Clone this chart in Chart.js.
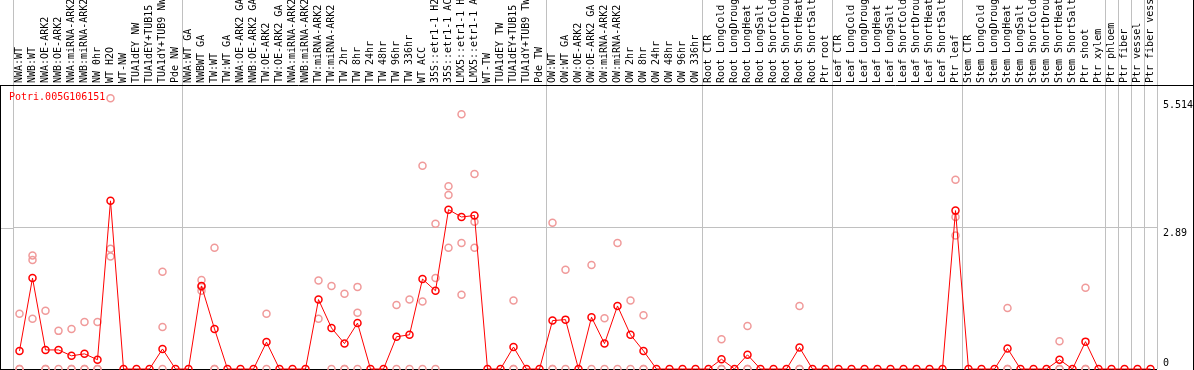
<!DOCTYPE html>
<html>
<head>
<meta charset="utf-8">
<script src="https://cdn.jsdelivr.net/npm/chart.js@4/dist/chart.umd.min.js"></script>
<style>
  body { margin: 0; background: #fff; }
  canvas { display: block; }
</style>
</head>
<body>
<canvas id="exprChart" width="1194" height="370"></canvas>
<script>
var geneName = 'Potri.005G106151';

var samples = [
  'NWA:WT', 'NWB:WT', 'NWA:OE-ARK2', 'NWB:OE-ARK2', 'NWA:miRNA-ARK2', 'NWB:miRNA-ARK2',
  'NW 0hr', 'WT H2O', 'WT-NW', 'TUA1dEY NW', 'TUA1dEY+TUB15 NW', 'TUA1dY+TUB9 NW', 'Pde NW',
  'NWA:WT GA', 'NWBWT GA', 'TW:WT', 'TW:WT GA', 'NWA:OE-ARK2 GA', 'NWB:OE-ARK2 GA',
  'TW:OE-ARK2', 'TW:OE-ARK2 GA', 'NWA:miRNA-ARK2', 'NWB:miRNA-ARK2', 'TW:miRNA-ARK2',
  'TW:miRNA-ARK2', 'TW 2hr', 'TW 8hr', 'TW 24hr', 'TW 48hr', 'TW 96hr', 'TW 336hr', 'WT ACC',
  '35S::etr1-1 H2O', '35S::etr1-1 ACC', 'LMX5::etr1-1 H2O', 'LMX5::etr1-1 ACC', 'WT-TW',
  'TUA1dEY TW', 'TUA1dEY+TUB15 TW', 'TUA1dY+TUB9 TW', 'Pde TW',
  'OW:WT', 'OW:WT GA', 'OW:OE-ARK2', 'OW:OE-ARK2 GA', 'OW:miRNA-ARK2', 'OW:miRNA-ARK2',
  'OW 2hr', 'OW 8hr', 'OW 24hr', 'OW 48hr', 'OW 96hr', 'OW 336hr',
  'Root CTR', 'Root LongCold', 'Root LongDrought', 'Root LongHeat', 'Root LongSalt',
  'Root ShortCold', 'Root ShortDrought', 'Root ShortHeat', 'Root ShortSalt', 'Ptr root',
  'Leaf CTR', 'Leaf LongCold', 'Leaf LongDrought', 'Leaf LongHeat', 'Leaf LongSalt',
  'Leaf ShortCold', 'Leaf ShortDrought', 'Leaf ShortHeat', 'Leaf ShortSalt', 'Ptr leaf',
  'Stem CTR', 'Stem LongCold', 'Stem LongDrought', 'Stem LongHeat', 'Stem LongSalt',
  'Stem ShortCold', 'Stem ShortDrought', 'Stem ShortHeat', 'Stem ShortSalt', 'Ptr shoot',
  'Ptr xylem', 'Ptr phloem', 'Ptr fiber', 'Ptr vessel', 'Ptr fiber vessel'
];

// mean expression per sample (the red line)
var meanValues = [
  0.37, 1.86, 0.39, 0.39, 0.27, 0.31, 0.19, 3.44, 0, 0,
  0, 0.41, 0, 0, 1.70, 0.82, 0, 0, 0, 0.55,
  0, 0, 0, 1.42, 0.84, 0.52, 0.94, 0, 0, 0.66,
  0.70, 1.84, 1.60, 3.26, 3.11, 3.14, 0, 0, 0.45, 0,
  0, 0.99, 1.01, 0, 1.06, 0.52, 1.29, 0.70, 0.37, 0,
  0, 0, 0, 0, 0.20, 0, 0.29, 0, 0, 0,
  0.44, 0, 0, 0, 0, 0, 0, 0, 0, 0,
  0, 0, 3.24, 0, 0, 0, 0.42, 0, 0, 0,
  0.19, 0, 0.56, 0, 0, 0, 0, 0
];

// individual replicates (pale circles)
var rep1 = [
  1.13, 2.32, 1.19, 0.78, 0.82, 0.96, 0.96, 5.54, null, null,
  null, 1.99, null, null, 1.82, 2.48, null, null, null, 1.13,
  null, null, null, 1.81, 1.70, 1.54, 1.68, null, null, 1.31,
  1.42, 4.16, 2.97, 3.74, 5.21, 3.99, null, null, 1.40, null,
  null, 2.99, 2.03, null, 2.13, 1.04, 2.58, 1.40, 1.10, null,
  null, null, null, null, 0.61, null, 0.88, null, null, null,
  1.29, null, null, null, null, null, null, null, null, null,
  null, null, 3.87, null, null, null, 1.25, null, null, null,
  0.57, null, 1.66, null, null, null, null, null
];
var rep2 = [
  0, 2.23, 0, 0, 0, 0, 0, 2.46, null, null,
  null, 0.86, null, null, 1.68, 0, null, null, null, 0,
  null, null, null, 1.03, 0, 0, 1.15, null, null, 0,
  0, 1.38, 1.86, 3.56, 2.58, 3.01, null, null, 0, null,
  null, 0, 0, null, 0, 0, 0, 0, 0, null,
  null, null, null, null, 0, null, 0, null, null, null,
  0, null, null, null, null, null, null, null, null, null,
  null, null, 3.11, null, null, null, 0, null, null, null,
  0, null, 0, null, null, null, null, null
];
var rep3 = [
  0, 1.03, 0, null, 0, 0, 0, 2.30, null, null,
  null, 0, null, null, 1.60, 0, null, null, null, null,
  null, null, null, null, null, 0, 0, null, null, null,
  null, 0, 0, 2.48, 1.52, 2.48, null, null, 0, null,
  null, 0, null, null, null, null, null, null, 0, null,
  null, null, null, null, 0, null, 0, null, null, null,
  0, null, null, null, null, null, null, null, null, null,
  null, null, 2.73, null, null, null, 0, null, null, null,
  0, null, 0, null, null, null, null, null
];

var yTicks = [0, 2.89, 5.514];
var groupBreaks = [0, 13, 41, 53, 63, 73, 84, 85, 86, 87, 88];

var monoFont = '"DejaVu Sans Mono", monospace';
var gridGray = '#c0c0c0';

var framePlugin = {
  id: 'frame',
  beforeDatasetsDraw: function (chart) {
    var ctx = chart.ctx, area = chart.chartArea;
    var xs = chart.scales.x, ys = chart.scales.y;
    var half = (xs.getPixelForValue(1) - xs.getPixelForValue(0)) / 2;
    ctx.save();
    ctx.lineWidth = 1;
    ctx.strokeStyle = gridGray;
    ctx.beginPath();
    groupBreaks.forEach(function (k) {
      var x = Math.round(xs.getPixelForValue(k) - half) + 0.5;
      ctx.moveTo(x, 0);
      ctx.lineTo(x, area.top);
    });
    var yg = Math.round(ys.getPixelForValue(2.89)) + 0.5;
    ctx.moveTo(0, yg);
    ctx.lineTo(area.left, yg);
    ctx.stroke();

    ctx.strokeStyle = '#000';
    ctx.beginPath();
    ctx.moveTo(0, area.top + 0.5);
    ctx.lineTo(chart.width, area.top + 0.5);
    ctx.moveTo(0.5, area.top);
    ctx.lineTo(0.5, chart.height);
    ctx.moveTo(chart.width - 0.5, 0);
    ctx.lineTo(chart.width - 0.5, chart.height);
    ctx.moveTo(0, area.bottom + 0.5);
    ctx.lineTo(area.right, area.bottom + 0.5);
    ctx.stroke();
    ctx.restore();
  },
  afterDraw: function (chart) {
    var ctx = chart.ctx, area = chart.chartArea, ys = chart.scales.y;
    ctx.save();
    ctx.font = '10px ' + monoFont;
    ctx.textAlign = 'left';
    ctx.fillStyle = '#000';
    yTicks.forEach(function (v) {
      var y = ys.getPixelForValue(v);
      if (v === 0) {
        ctx.textBaseline = 'alphabetic';
        ctx.fillText(String(v), area.right + 6, y - 3);
      } else {
        ctx.textBaseline = 'top';
        ctx.fillText(String(v), area.right + 6, y + 1);
      }
    });
    ctx.fillStyle = '#ff0000';
    ctx.textBaseline = 'middle';
    ctx.fillText(geneName, 9, area.top + 12);
    ctx.restore();
  }
};

function repSet(values) {
  return {
    data: values,
    showLine: false,
    order: 1,
    pointRadius: 3.5,
    pointBorderWidth: 1.5,
    pointBorderColor: '#f09a9a',
    pointBackgroundColor: 'rgba(0,0,0,0)',
    clip: false
  };
}

document.addEventListener('DOMContentLoaded', function () {
  var ctx = document.getElementById('exprChart').getContext('2d');
  new Chart(ctx, {
    type: 'line',
    data: {
      labels: samples,
      datasets: [{
        data: meanValues,
        order: 0,
        borderColor: '#ff0000',
        borderWidth: 1,
        tension: 0,
        pointRadius: 3.5,
        pointBorderWidth: 1.5,
        pointBorderColor: '#ff0000',
        pointBackgroundColor: 'rgba(0,0,0,0)',
        clip: false
      }, repSet(rep1), repSet(rep2), repSet(rep3)]
    },
    options: {
      responsive: false,
      animation: false,
      devicePixelRatio: 1,
      layout: { autoPadding: false, padding: { left: 13, right: 0, top: 0, bottom: 1 } },
      plugins: { legend: { display: false }, tooltip: { enabled: false } },
      scales: {
        x: {
          type: 'category',
          position: 'top',
          offset: true,
          grid: {
            offset: true,
            drawTicks: false,
            color: function (c) {
              var i = c.type === 'tick' ? c.index : samples.length;
              return groupBreaks.indexOf(i) >= 0 ? gridGray : 'rgba(0,0,0,0)';
            }
          },
          border: { display: false },
          ticks: {
            autoSkip: false,
            minRotation: 90,
            maxRotation: 90,
            padding: 2,
            labelOffset: 12,
            color: '#000',
            font: { family: monoFont, size: 10 }
          },
          afterFit: function (s) { s.height = 85; }
        },
        y: {
          position: 'right',
          min: 0,
          max: 5.81,
          afterBuildTicks: function (s) {
            s.ticks = yTicks.map(function (v) { return { value: v }; });
          },
          grid: {
            drawTicks: false,
            color: function (c) {
              return c.tick && c.tick.value === 2.89 ? gridGray : 'rgba(0,0,0,0)';
            }
          },
          border: { display: false },
          ticks: { display: false },
          afterFit: function (s) { s.width = 37; }
        }
      }
    },
    plugins: [framePlugin]
  });
});
</script>
</body>
</html>
